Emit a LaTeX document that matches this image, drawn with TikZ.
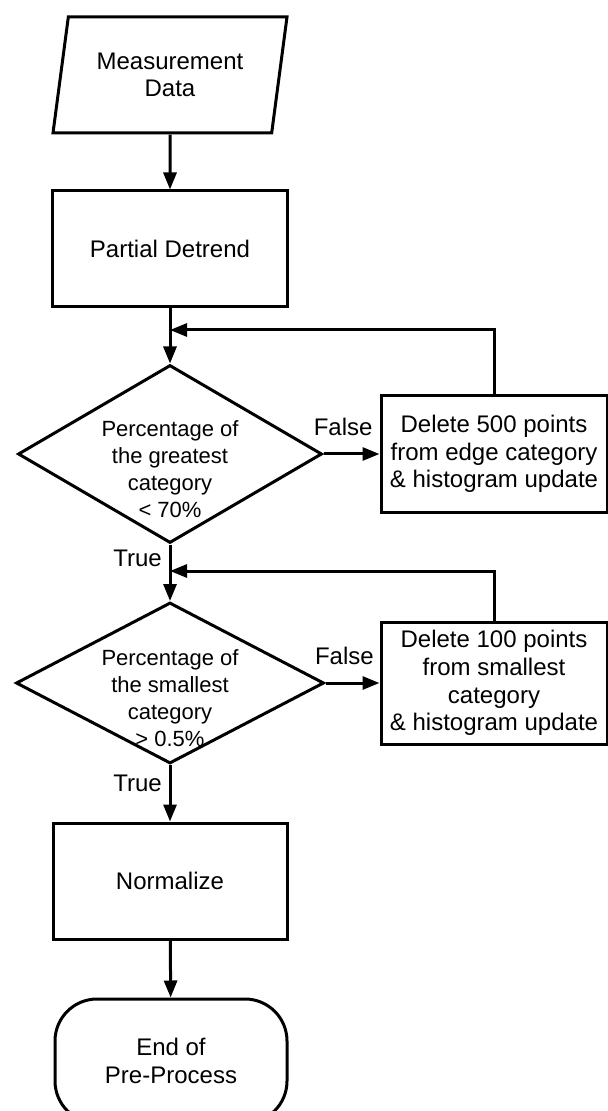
\documentclass[tikz,border=0pt]{standalone}
\usepackage{fontspec}
\setmainfont{Liberation Sans}
\usetikzlibrary{shapes.geometric,arrows.meta}

\begin{document}
\begin{tikzpicture}[x=0.5pt, y=-0.5pt, line width=1.5pt,
    font=\fontsize{12}{13.8}\selectfont,
    >={Triangle[length=8.5pt,width=6.5pt]},
    box/.style={draw, rectangle, align=center, inner sep=0pt},
    io/.style={draw, trapezium, trapezium left angle=76, trapezium right angle=104,
        trapezium stretches=true, align=center, inner sep=0pt},
    decision/.style={draw, diamond, align=center, inner xsep=-4pt, inner ysep=-12pt,
        font=\fontsize{11}{13.5}\selectfont},
    terminal/.style={draw, rectangle, rounded corners=21pt, align=center, inner sep=0pt}]
    \useasboundingbox (0,0) rectangle (608,1111);
    \clip (0,0) rectangle (608,1111);

    \node (data) [io, minimum width=117.5pt, minimum height=58pt] at (170, 75) {Measurement\\Data};
    \node (detrend) [box, minimum width=117.5pt, minimum height=58pt] at (170, 249) {Partial Detrend};
    \coordinate (j1) at (170, 330);
    \node (cond1) [decision, minimum width=152pt, minimum height=89pt, shape aspect=1.7] at (170, 454)
        {\rule{0pt}{23pt}Percentage of\\the greatest\\category\\< 70\%};
    \node (fix1) [box, minimum width=113pt, minimum height=58pt] at (494, 454)
        {Delete 500 points\\from edge category\\\& histogram update};
    \coordinate (j2) at (170, 571);
    \node (cond2) [decision, minimum width=154pt, minimum height=80.5pt, shape aspect=1.9] at (170, 683)
        {\rule{0pt}{23pt}Percentage of\\the smallest\\category\\> 0.5\%};
    \node (fix2) [box, minimum width=113pt, minimum height=61pt] at (494, 683)
        {Delete 100 points\\from smallest\\category\\\& histogram update};
    \node (norm) [box, minimum width=117pt, minimum height=58pt] at (170, 881) {Normalize};
    \node (end) [terminal, minimum width=116pt, minimum height=62pt] at (171, 1061) {End of\\Pre-Process};

    \draw[->] (data) -- (detrend);
    \draw[->] (detrend) -- (cond1);
    \draw[->] (cond1) -- (fix1) node[pos=0.35, above=5pt] (false1) {False};
    \draw[->] (fix1.north) |- (j1);
    \draw[->] (cond1) -- (cond2) node[pos=0.25, left] (true1) {True};
    \draw[->] (cond2) -- (fix2) node[pos=0.35, above=5pt] (false2) {False};
    \draw[->] (fix2.north) |- (j2);
    \draw[->] (cond2) -- (norm) node[pos=0.33, left] (true2) {True};
    \draw[->] (norm) -- (end);
\end{tikzpicture}
\end{document}
